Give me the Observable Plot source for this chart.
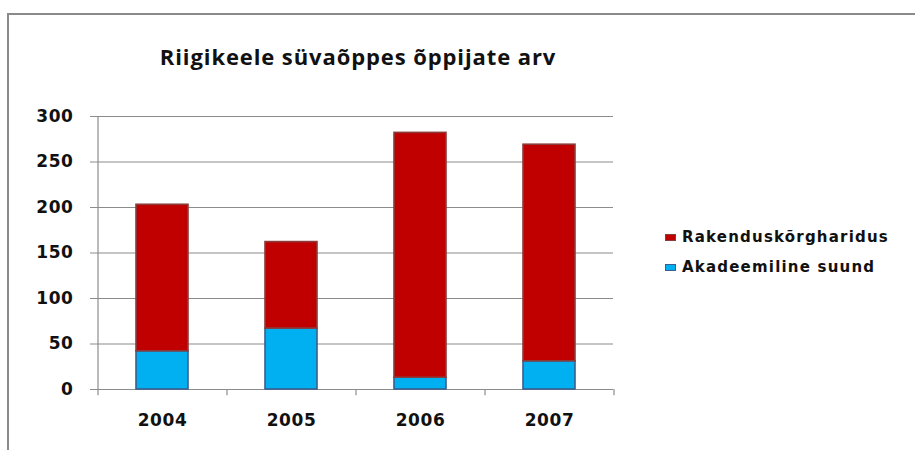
<!DOCTYPE html>
<html>
<head>
<meta charset="utf-8">
<script src="https://cdn.jsdelivr.net/npm/d3@7"></script>
<script src="https://cdn.jsdelivr.net/npm/@observablehq/plot@0.6"></script>
<style>
  html, body { margin: 0; padding: 0; background: #fff; }
  #wrap { position: relative; width: 915px; height: 450px; overflow: hidden; }
  #frame { position: absolute; left: 7px; top: 13px; width: 920px; height: 450px;
           border-top: 2px solid #8a8a8a; border-left: 2px solid #8a8a8a; }
  #title { position: absolute; left: 0; width: 716px; top: 41px; text-align: center;
           font-family: "Open Sans", sans-serif; font-weight: 700; font-size: 22px;
           letter-spacing: 0.9px; color: #111; }
  #legend { position: absolute; left: 665px; top: 222px;
            font-family: "DejaVu Sans", sans-serif; font-weight: 700; font-size: 15px;
            letter-spacing: 1.2px; color: #111; }
  .item { display: flex; align-items: center; height: 30px; }
  .sw { width: 11px; height: 7px; margin-right: 6px; box-sizing: border-box; }
  svg text { letter-spacing: 0.6px; }
</style>
</head>
<body>
<div id="wrap">
  <div id="frame"></div>
  <div id="title"></div>
  <div id="legend"></div>
</div>
<script>
const titleText = "Riigikeele süvaõppes õppijate arv";
const years = ["2004", "2005", "2006", "2007"];
const seriesNames = ["Akadeemiline suund", "Rakenduskõrgharidus"];
const akadeemiline = [42, 67, 13, 31];
const rakendus = [161, 95, 269, 238];
const yTicks = [0, 50, 100, 150, 200, 250, 300];
const fills = {"Akadeemiline suund": "#00b0f0", "Rakenduskõrgharidus": "#c00000"};
const strokes = {"Akadeemiline suund": "#3a5f8f", "Rakenduskõrgharidus": "#8c3b3b"};

const data = [];
years.forEach((yr, i) => {
  data.push({year: yr, series: seriesNames[0], value: akadeemiline[i]});
  data.push({year: yr, series: seriesNames[1], value: rakendus[i]});
});

const W = 915, H = 450, mL = 97, mR = 302, mT = 116, mB = 61;
const step = (W - mL - mR) / years.length;

const chart = Plot.plot({
  width: W, height: H,
  marginLeft: mL, marginRight: mR, marginTop: mT, marginBottom: mB,
  style: {fontFamily: "DejaVu Sans, sans-serif", fontSize: "17px", fontWeight: "700", color: "#111", background: "transparent"},
  x: {domain: years, paddingInner: 0.6, paddingOuter: 0.3, label: null},
  y: {domain: [0, 300], label: null},
  color: {type: "identity"},
  marks: [
    Plot.ruleY(yTicks, {stroke: "#8c8c8c", strokeWidth: 1.2}),
    Plot.barY(data, {x: "year", y: "value", fill: d => fills[d.series], stroke: d => strokes[d.series], strokeWidth: 1.6}),
    Plot.ruleX(years, {x: d => d, dx: -step / 2, y1: -7, y2: d => d === years[0] ? 300 : 0, stroke: "#8c8c8c", strokeWidth: 1.2}),
    Plot.ruleX([years[years.length - 1]], {x: d => d, dx: step / 2, y1: 0, y2: -7, stroke: "#8c8c8c", strokeWidth: 1.2}),
    Plot.axisY({ticks: yTicks, tickSize: 7, tickPadding: 17, stroke: "#8c8c8c", tickFormat: d => String(d)}),
    Plot.axisX({tickSize: 0, tickPadding: 24})
  ]
});
chart.style.position = "absolute";
chart.style.left = "0px";
chart.style.top = "0px";
document.getElementById("wrap").appendChild(chart);

document.getElementById("title").textContent = titleText;
const legend = document.getElementById("legend");
[seriesNames[1], seriesNames[0]].forEach(name => {
  const it = document.createElement("div");
  it.className = "item";
  const sw = document.createElement("span");
  sw.className = "sw";
  sw.style.background = fills[name];
  sw.style.border = "1px solid " + strokes[name];
  const tx = document.createElement("span");
  tx.textContent = name;
  it.appendChild(sw); it.appendChild(tx);
  legend.appendChild(it);
});
</script>
</body>
</html>
